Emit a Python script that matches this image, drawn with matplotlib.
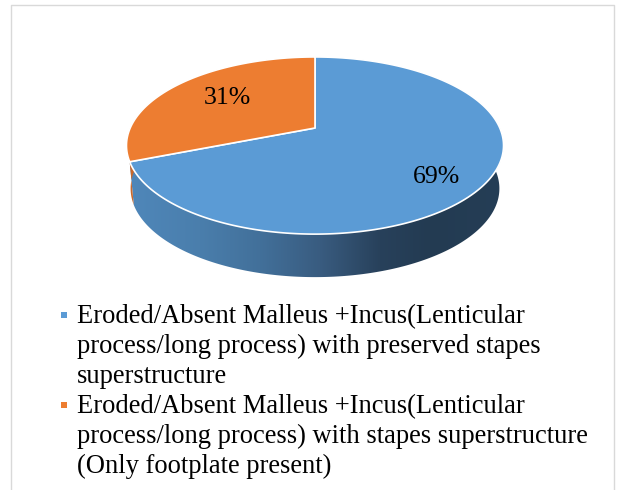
import numpy as np
import matplotlib
matplotlib.use("Agg")
import matplotlib.pyplot as plt
from matplotlib.patches import Polygon, Rectangle

# data
categories = [
    "Eroded/Absent Malleus +Incus(Lenticular\nprocess/long process) with preserved stapes\nsuperstructure",
    "Eroded/Absent Malleus +Incus(Lenticular\nprocess/long process) with stapes superstructure\n(Only footplate present)",
]
values = [69, 31]
colors = ["#5B9BD5", "#ED7D31"]
side_colors = [None, "#c8682c"]  # blue side uses a gradient
label_pos = [(437, 177), (227, 98)]

plt.rcParams["font.family"] = ["Liberation Serif", "DejaVu Serif"]

# pie geometry in pixels (perspective ellipse)
X0, Y0 = 315.0, 128.0
A, B, C = 184.8, 85.1, 0.198
DEPTH, SHRINK = 43.0, 0.978


def proj(theta):
    t = np.radians(theta)
    u, v = np.cos(t), np.sin(t)
    w = 1 + C * v
    return X0 + A * u / w, Y0 - B * v / w


def bottom(x, y):
    return X0 + SHRINK * (x - X0), y + DEPTH


# side gradient stops for the blue slice (x pixel -> colour)
grad_x = [130, 200, 260, 320, 380, 430, 505]
grad_c = ["#4f87ba", "#4a7eac", "#42709a", "#395c80", "#28415b", "#233b52", "#253e56"]
grad_rgb = np.array([matplotlib.colors.to_rgb(c) for c in grad_c])

fig = plt.figure(figsize=(6.17, 4.9), dpi=100)
ax = fig.add_axes([0, 0, 1, 1])

# frame
ax.plot([11, 11, 614, 614], [490, 5, 5, 490], color="#d9d9d9", lw=1.0)

# slice angles, clockwise from 12 o'clock
total = sum(values)
starts, ends = [], []
ang = 90.0
for v in values:
    starts.append(ang)
    ang -= 360.0 * v / total
    ends.append(ang)

# side walls: front part of each slice (theta between 170 and 370, mod 360)
for i in range(len(values)):
    hi = starts[i] % 360
    lo = ends[i] % 360
    if hi <= lo:
        hi += 360
    # slice spans lo..hi (counterclockwise); intersect with front window
    a0, a1 = max(lo, 170.0), min(hi, 370.0)
    if a1 <= a0:
        a0, a1 = max(lo, 170.0 + 360), min(hi, 370.0 + 360)
    if a1 <= a0:
        continue
    th = np.linspace(a0, a1, 300)
    xt, yt = proj(th)
    xb, yb = bottom(xt, yt)
    pts = list(zip(xt, yt)) + list(zip(xb[::-1], yb[::-1]))
    if side_colors[i] is None:
        poly = Polygon(pts, closed=True, facecolor="none", edgecolor="none")
        ax.add_patch(poly)
        gx = np.linspace(120, 510, 400)
        grad = np.stack([np.interp(gx, grad_x, grad_rgb[:, k]) for k in range(3)], axis=-1)[None, :, :]
        im = ax.imshow(grad, extent=(120, 510, 300, 120), aspect="auto",
                       interpolation="bilinear", zorder=1)
        im.set_clip_path(poly)
    else:
        ax.add_patch(Polygon(pts, closed=True, facecolor=side_colors[i],
                             edgecolor="none", zorder=1))

# top faces
for i in range(len(values)):
    th = np.linspace(starts[i], ends[i], 400)
    xs, ys = proj(th)
    pts = [(X0, Y0)] + list(zip(xs, ys))
    ax.add_patch(Polygon(pts, closed=True, facecolor=colors[i],
                         edgecolor="white", lw=1.2, joinstyle="round", zorder=2))

# percentage labels
for v, (lx, ly) in zip(values, label_pos):
    ax.text(lx, ly, f"{v}%", fontsize=18.5, ha="center", va="center", color="black", zorder=3)

# legend
line_h = 30.0
base = 323.3
for i, lab in enumerate(categories):
    lines = lab.split("\n")
    ax.add_patch(Rectangle((61, base - 11.5), 6, 6, facecolor=colors[i], edgecolor="none"))
    for ln in lines:
        ax.text(77, base, ln, fontsize=19.1, ha="left", va="baseline", color="black")
        base += line_h

ax.set_xlim(0, 617)
ax.set_ylim(490, 0)
ax.axis("off")
fig.savefig("out.png", dpi=100)
